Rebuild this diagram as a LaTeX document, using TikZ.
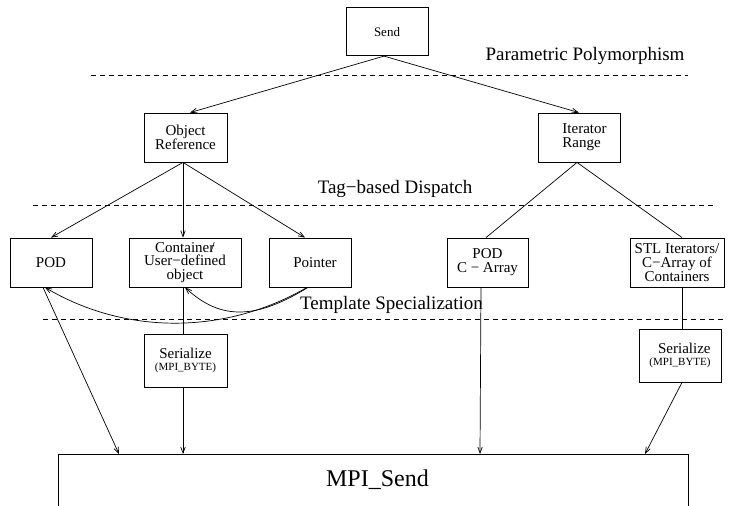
\documentclass[tikz,border=0pt]{standalone}
\usepackage{fontspec}
\setmainfont{Liberation Serif}
\usetikzlibrary{arrows.meta}
\tikzset{
  box/.style={draw, line width=0.8pt, inner sep=1pt, minimum height=49pt, align=center},
  nt/.style={font=\fontsize{15}{13.8}\selectfont},
  arr/.style={-{Straight Barb[length=6pt,width=4.5pt]}, line width=0.7pt},
  ln/.style={line width=0.7pt},
  sepline/.style={dash pattern=on 5pt off 4pt, line width=0.7pt},
  lbl/.style={font=\fontsize{19}{22}\selectfont, inner sep=0pt},
}
\begin{document}
\begin{tikzpicture}[x=1pt,y=-1pt]
\useasboundingbox (0,0) rectangle (732,506);

% separators and level labels
\draw[sepline] (91,75.3) -- (688,75.3);
\draw[sepline] (33,205) -- (715,205);
\draw[sepline] (43,319.5) -- (724,319.5);
\node[lbl] (pp) at (585,56) {Parametric Polymorphism};
\node[lbl] (td) at (395,189) {Tag−based Dispatch};
\node[lbl] (ts) at (391.5,305) {Template Specialization};

% nodes
\node[box, minimum width=82pt, minimum height=48pt, font=\fontsize{13}{14}\selectfont] (send) at (387,31.7) {Send};
\node[box, nt, minimum width=83pt] (objref) at (185.5,137.5) {Object\\Reference};
\node[box, nt, minimum width=82pt, align=left] (iter) at (579,137.5) {\hspace*{11pt}Iterator\\\hspace*{11pt}Range};
\node[box, nt, minimum width=82pt] (pod) at (51,262.5) {POD};
\node[box, nt, minimum width=112pt] (cont) at (185,262.5) {Container\kern-0.25em/\\User−defined\\object};
\node[box, nt, minimum width=82pt] (ptr) at (310,262.5) {\hspace*{10pt}Pointer};
\node[box, nt, minimum width=81pt] (podc) at (487.5,262.5) {POD\\C − Array};
\node[box, nt, minimum width=94pt] (stl) at (677,262.5) {STL Iterators/\\C−Array of\\Containers};
\node[box, minimum width=83pt, minimum height=53pt] (ser1) at (185.5,360.5)
  {{\fontsize{15}{15}\selectfont Serialize}\\{\fontsize{11}{12}\selectfont (MPI\_BYTE)}};
\node[box, minimum width=82pt, minimum height=53pt, align=right] (ser2) at (680,355.5)
  {{\fontsize{15}{15}\selectfont Serialize}\\{\fontsize{11}{12}\selectfont (MPI\_BYTE)}};
\node[draw, line width=0.8pt, minimum width=630pt, minimum height=80pt, anchor=north] (mpi) at (373,454) {};
\node[font=\fontsize{24}{26}\selectfont] (mpitext) at (377.5,480) {MPI\_Send};

% connectors
\draw[arr] ([xshift=-3pt]send.south) -- ([xshift=4.5pt]objref.north);
\draw[arr] ([xshift=-3pt]send.south) -- (iter.north);
\draw[arr] ([xshift=-2.5pt]objref.south) -- (pod.north);
\draw[arr] ([xshift=-2.5pt]objref.south) -- ([xshift=-2pt]cont.north);
\draw[arr] ([xshift=-2.5pt]objref.south) -- ([xshift=-5pt]ptr.north);
\draw[ln] ([xshift=-2pt]iter.south) -- ([xshift=-1.5pt]podc.north);
\draw[ln] ([xshift=-2pt]iter.south) -- ([xshift=5pt]stl.north);
\draw[ln] ([xshift=-2pt]cont.south) -- ([xshift=-2.5pt]ser1.north);
\draw[ln] ([xshift=5pt]stl.south) -- ([xshift=2pt]ser2.north);
\draw[arr] ([xshift=-3pt]ptr.south) .. controls (225,335) and (125,335) .. ([xshift=-6pt]pod.south);
\draw[arr] ([xshift=-2pt]ptr.south) .. controls (258,318) and (222,322) .. (cont.south);
\draw[arr] ([xshift=-8pt]pod.south) -- ([xshift=-254pt]mpi.north);
\draw[arr] ([xshift=-2.5pt]ser1.south) -- ([xshift=-190pt]mpi.north);
\draw[arr] ([xshift=-6.5pt]podc.south) -- ([xshift=107pt]mpi.north);
\draw[arr] ([xshift=2pt]ser2.south) -- ([xshift=272pt]mpi.north);
\end{tikzpicture}
\end{document}
